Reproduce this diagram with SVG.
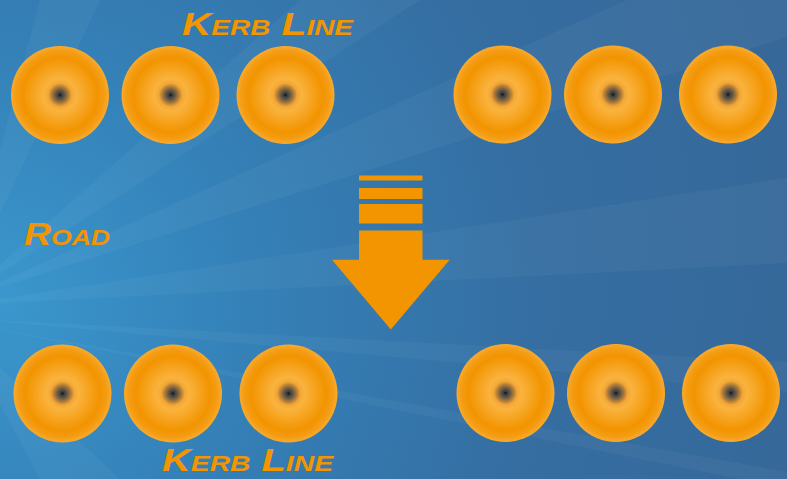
<svg xmlns="http://www.w3.org/2000/svg" width="787" height="479" viewBox="0 0 787 479">
  <defs>
    <radialGradient id="bg" cx="0" cy="300" r="820" gradientUnits="userSpaceOnUse">
      <stop offset="0" stop-color="#3a97cd"/>
      <stop offset="0.3" stop-color="#3481b8"/>
      <stop offset="0.65" stop-color="#356ea2"/>
      <stop offset="1" stop-color="#366899"/>
    </radialGradient>
    <radialGradient id="kerb" cx="0.5" cy="0.5" r="0.5">
      <stop offset="0" stop-color="#0d0d0d"/>
      <stop offset="0.035" stop-color="#3a3a3a"/>
      <stop offset="0.1" stop-color="#675a48"/>
      <stop offset="0.17" stop-color="#b07c36"/>
      <stop offset="0.24" stop-color="#f3a736"/>
      <stop offset="0.33" stop-color="#fab33e"/>
      <stop offset="0.76" stop-color="#f29400"/>
      <stop offset="0.9" stop-color="#f49c14"/>
      <stop offset="1" stop-color="#f8ab2e"/>
    </radialGradient>
  </defs>
  <style>
    .ray { fill: #ffffff; fill-opacity: 0.04; }
    .cone { fill: url(#kerb); }
    .lbl { font-family: "Liberation Sans", Arial, sans-serif; font-weight: bold; font-style: italic; font-variant: small-caps; fill: #f39500; }
    .arr { fill: #f39500; }
  </style>
  <rect width="787" height="479" fill="url(#bg)"/>
  <g id="rays">
    <polygon class="ray" points="-40,305 787,178 787,263"/>
    <polygon class="ray" points="-40,300 627,0 787,0 787,37"/>
    <polygon class="ray" points="-40,300 40,0 100,0"/>
    <polygon class="ray" points="-40,300 300,0 420,0"/>
    <polygon class="ray" points="-40,318 787,362 787,392"/>
    <polygon class="ray" points="-40,322 787,472 787,479 740,479"/>
    <polygon class="ray" points="-40,330 40,479 120,479"/>
  </g>

  <g id="label-kerb-top"><text class="lbl" x="182" y="35" font-size="32" textLength="171" lengthAdjust="spacingAndGlyphs">Kerb Line</text></g>
  <g id="label-road"><text class="lbl" x="24" y="245" font-size="31" textLength="86" lengthAdjust="spacingAndGlyphs">Road</text></g>
  <g id="label-kerb-bottom"><text class="lbl" x="162" y="471" font-size="31" textLength="171" lengthAdjust="spacingAndGlyphs">Kerb Line</text></g>

  <g id="kerb-t1"><circle class="cone" cx="60" cy="95" r="49"/></g>
  <g id="kerb-t2"><circle class="cone" cx="170.5" cy="95" r="49"/></g>
  <g id="kerb-t3"><circle class="cone" cx="285.5" cy="95" r="49"/></g>
  <g id="kerb-t4"><circle class="cone" cx="502.5" cy="94.5" r="49"/></g>
  <g id="kerb-t5"><circle class="cone" cx="613" cy="94.5" r="49"/></g>
  <g id="kerb-t6"><circle class="cone" cx="728" cy="94.5" r="49"/></g>

  <g id="kerb-b1"><circle class="cone" cx="62.5" cy="393.5" r="49"/></g>
  <g id="kerb-b2"><circle class="cone" cx="173" cy="393.5" r="49"/></g>
  <g id="kerb-b3"><circle class="cone" cx="288.5" cy="393.5" r="49"/></g>
  <g id="kerb-b4"><circle class="cone" cx="505.5" cy="393" r="49"/></g>
  <g id="kerb-b5"><circle class="cone" cx="616" cy="393" r="49"/></g>
  <g id="kerb-b6"><circle class="cone" cx="731" cy="393" r="49"/></g>

  <g id="arrow">
    <rect class="arr" x="359" y="175.5" width="63.5" height="5"/>
    <rect class="arr" x="359" y="188" width="63.5" height="11"/>
    <rect class="arr" x="359" y="204" width="63.5" height="19.5"/>
    <polygon class="arr" points="359,230.5 422.5,230.5 422.5,259.7 449.7,259.7 390.8,329.5 332,259.7 359,259.7"/>
  </g>
</svg>
